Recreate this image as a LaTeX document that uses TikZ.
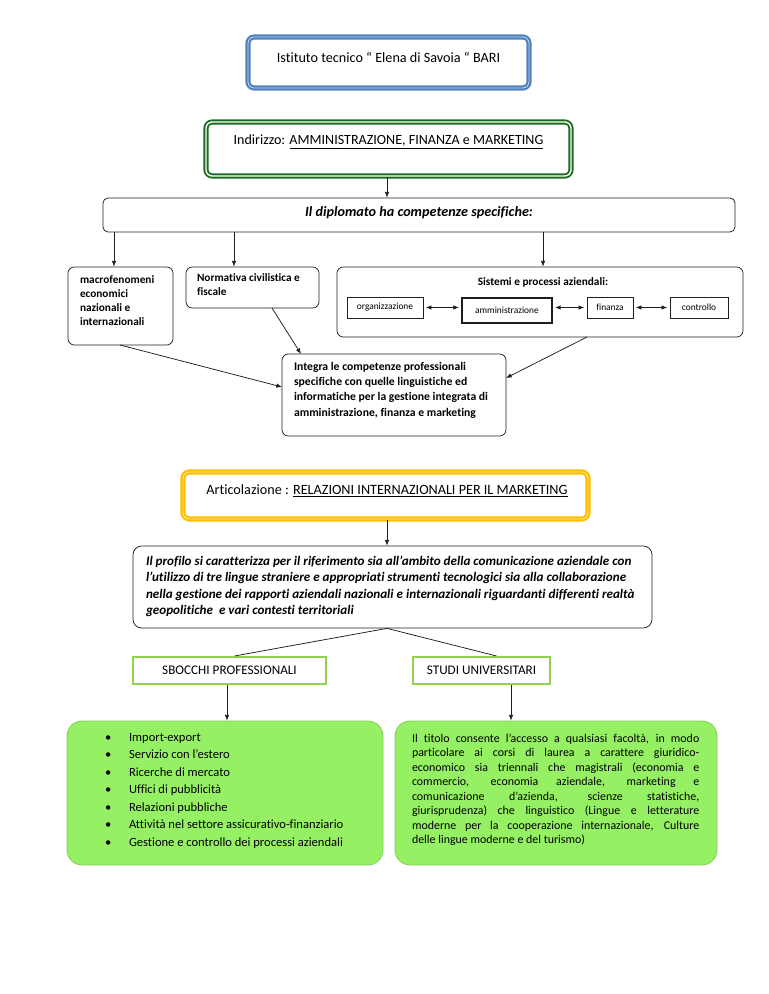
\documentclass[tikz,border=0pt]{standalone}
\usepackage{fontspec}
\setmainfont{Carlito}[Ligatures=NoCommon]
\usetikzlibrary{arrows.meta,fit,calc}
\definecolor{bblue}{RGB}{79,129,189}
\definecolor{bbluel}{RGB}{190,210,235}
\definecolor{dgreen}{RGB}{28,108,32}
\definecolor{borange}{RGB}{255,190,0}
\definecolor{borangel}{RGB}{255,230,140}
\definecolor{lgreen}{RGB}{146,208,80}
\definecolor{gfill}{RGB}{150,240,100}
\definecolor{gdraw}{RGB}{128,206,84}
\definecolor{lineblk}{RGB}{30,30,30}
\begin{document}
\begin{tikzpicture}[x=0.7969pt,y=-0.7969pt,
  box/.style={draw=lineblk, line width=0.6pt, rounded corners=5pt, inner sep=0pt},
  sqbox/.style={draw=lineblk, line width=0.5pt, inner sep=0pt},
  bluebox/.style={draw=bblue, line width=1.7pt, double=bbluel, double distance=0.7pt, rounded corners=5pt, inner sep=0pt},
  greenbox/.style={draw=dgreen, line width=1.5pt, double=white, double distance=1.1pt, rounded corners=5pt, inner sep=0pt},
  orangebox/.style={draw=borange, line width=1.7pt, double=borangel, double distance=0.7pt, rounded corners=5pt, inner sep=0pt},
  lgbox/.style={draw=lgreen, line width=1.6pt, inner sep=0pt},
  gbox/.style={draw=gdraw, fill=gfill, line width=0.6pt, rounded corners=12pt, inner sep=0pt},
  arr/.style={-{Latex[length=4.5pt,width=3.6pt]}, line width=0.6pt, draw=lineblk},
  darr/.style={{Latex[length=4.5pt,width=3.6pt]}-{Latex[length=4.5pt,width=3.6pt]}, line width=0.6pt, draw=lineblk, shorten <=2pt, shorten >=2pt},
  ln/.style={line width=0.6pt, draw=lineblk},
  txt/.style={inner sep=0pt, outer sep=0pt}
]
\useasboundingbox (0,0) rectangle (768,994);

% boxes
\node[bluebox, fit={(248,37)(529,88)}] (b1) {};
\node[greenbox, fit={(206,122)(571,176)}] (b2) {};
\node[box, rounded corners=4pt, fit={(103,198)(735,232)}] (b3) {};
\node[box, fit={(68,267)(173,345)}] (macro) {};
\node[box, fit={(186,267)(319,308)}] (norm) {};
\node[box, fit={(337,267)(743,337)}] (sist) {};
\node[sqbox, fit={(347,297)(423,318)}] (org) {};
\node[sqbox, line width=0.9pt, fit={(462,298)(552,323)}] (amm) {};
\node[sqbox, fit={(587,297)(633,318)}] (fin) {};
\node[sqbox, fit={(670,297)(728,318)}] (ctrl) {};
\node[box, fit={(282,354)(506,436)}] (integ) {};
\node[orangebox, fit={(183,472)(588,519)}] (b4) {};
\node[box, rounded corners=7pt, fit={(133,546)(652,628)}] (prof) {};
\node[lgbox, fit={(133,657)(326,684)}] (sbo) {};
\node[lgbox, fit={(413,657)(550,684)}] (stu) {};
\node[gbox, fit={(67,721)(383,865)}] (lst) {};
\node[gbox, fit={(395,721)(717,865)}] (uni) {};

% texts
\node[txt, font=\fontsize{11.3}{13}\selectfont] (t1) at (388.5,57) {Istituto tecnico “ Elena di Savoia “ BARI};
\node[txt, font=\fontsize{11.2}{13}\selectfont] (t2) at (388.5,142) {Indirizzo: \underline{AMMINISTRAZIONE, FINANZA e MARKETING}};
\node[txt, font=\fontsize{11.3}{13}\selectfont\bfseries\itshape] (t3) at (419,213) {Il diplomato ha competenze specifiche:};
\node[txt, anchor=north west, align=left, font=\fontsize{9}{11}\selectfont\bfseries] (t4) at (80,276) {macrofenomeni\\economici\\nazionali e\\internazionali};
\node[txt, anchor=north west, align=left, font=\fontsize{9}{11}\selectfont\bfseries] (t5) at (197,274) {Normativa civilistica e\\fiscale};
\node[txt, font=\fontsize{9}{11}\selectfont\bfseries] (t6) at (543,282) {Sistemi e processi aziendali:};
\node[txt, font=\fontsize{7.5}{9}\selectfont] at (org.center) {organizzazione};
\node[txt, font=\fontsize{7.5}{9}\selectfont] at (amm.center) {amministrazione};
\node[txt, font=\fontsize{7.5}{9}\selectfont] at (fin.center) {finanza};
\node[txt, font=\fontsize{7.5}{9}\selectfont] at (ctrl.center) {controllo};
\node[txt, anchor=north west, align=left, font=\fontsize{9.3}{12.2}\selectfont\bfseries] (t7) at (294,362) {Integra le competenze professionali\\specifiche con quelle linguistiche ed\\informatiche per la gestione integrata di\\amministrazione, finanza e marketing};
\node[txt, font=\fontsize{11.3}{13}\selectfont] (t8) at (387,491) {Articolazione : \underline{RELAZIONI INTERNAZIONALI PER IL MARKETING}};
\node[txt, anchor=north west, align=left, font=\fontsize{10.45}{13}\selectfont\bfseries\itshape] (t9) at (146,556) {Il profilo si caratterizza per il riferimento sia all’ambito della comunicazione aziendale con\\l’utilizzo di tre lingue straniere e appropriati strumenti tecnologici sia alla collaborazione\\nella gestione dei rapporti aziendali nazionali e internazionali riguardanti differenti realtà\\geopolitiche\ \ e vari contesti territoriali};
\node[txt, font=\fontsize{10.5}{12}\selectfont] at (sbo.center) {SBOCCHI PROFESSIONALI};
\node[txt, font=\fontsize{10.5}{12}\selectfont] at (stu.center) {STUDI UNIVERSITARI};
\node[txt, anchor=north west, align=left, font=\fontsize{10}{13.95}\selectfont] (t10) at (129,733) {%
\llap{\textbullet\hspace{14pt}}Import-export\\
\llap{\textbullet\hspace{14pt}}Servizio con l’estero\\
\llap{\textbullet\hspace{14pt}}Ricerche di mercato\\
\llap{\textbullet\hspace{14pt}}Uffici di pubblicità\\
\llap{\textbullet\hspace{14pt}}Relazioni pubbliche\\
\llap{\textbullet\hspace{14pt}}Attività nel settore assicurativo-finanziario\\
\llap{\textbullet\hspace{14pt}}Gestione e controllo dei processi aziendali};
\node[txt, anchor=north west, align=justify, text width=229pt, font=\fontsize{9.5}{11.55}\selectfont] (t11) at (412,734) {Il titolo consente l’accesso a qualsiasi facoltà, in modo\linebreak particolare ai corsi di laurea a carattere giuridico-\linebreak economico sia triennali che magistrali (economia e\linebreak commercio, economia aziendale, marketing e\linebreak comunicazione d’azienda, scienze statistiche,\linebreak giurisprudenza) che linguistico (Lingue e letterature\linebreak moderne per la cooperazione internazionale, Culture\linebreak delle lingue moderne e del turismo)};

% connector x positions
\coordinate (xa) at (387,0);
\coordinate (x1) at (114,0);
\coordinate (x2) at (234,0);
\coordinate (x3) at (543,0);
\coordinate (x4) at (227,0);
\coordinate (x5) at (511,0);

\draw[arr] (b2.south -| xa) -- (b3.north -| xa);
\draw[arr] (b3.south -| x1) -- (macro.north -| x1);
\draw[arr] (b3.south -| x2) -- (norm.north -| x2);
\draw[arr] (b3.south -| x3) -- (sist.north -| x3);
\draw[darr] (org.east) -- (amm.west |- org.east);
\draw[darr] (amm.east |- fin.west) -- (fin.west);
\draw[darr] (fin.east) -- (ctrl.west);
\coordinate (m1) at (120,345);
\coordinate (n1) at (272,308);
\coordinate (s1) at (587,337);
\coordinate (i1) at (282,387);
\coordinate (i2) at (301,354);
\coordinate (i3) at (506,378);
\draw[arr] (m1) -- (i1);
\draw[arr] (n1) -- (i2);
\draw[arr] (s1) -- (i3);
\draw[arr] (b4.south -| xa) -- (prof.north -| xa);
\draw[ln] (prof.south -| xa) -- ($(sbo.north)+(5,0)$);
\draw[ln] (prof.south -| xa) -- ($(stu.north)+(15,0)$);
\draw[arr] (sbo.south -| x4) -- (lst.north -| x4);
\draw[arr] (stu.south -| x5) -- (uni.north -| x5);
\end{tikzpicture}
\end{document}
